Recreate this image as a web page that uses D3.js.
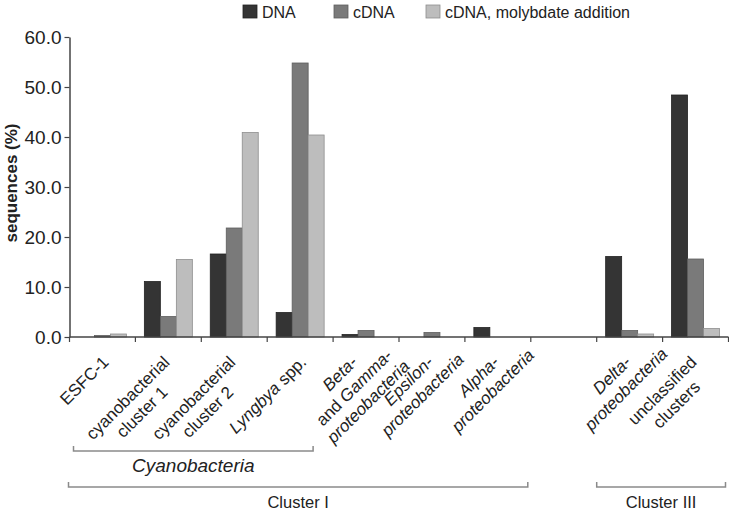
<!DOCTYPE html>
<html><head><meta charset="utf-8">
<script src="https://cdn.jsdelivr.net/npm/d3@7"></script>
<style>
body{margin:0;background:#fff}
text{font-family:"Liberation Sans",Arial,Helvetica,sans-serif;fill:#222}
</style>
</head><body>
<svg id="chart" width="729" height="512"></svg>
<script>
// ---- data ----
const categories = ["ESFC-1","cyanobacterial cluster 1","cyanobacterial cluster 2","Lyngbya spp.",
  "Beta- and Gamma-proteobacteria","Epsilon-proteobacteria","Alpha-proteobacteria","(gap)",
  "Delta-proteobacteria","unclassified clusters"];
const seriesNames = ["DNA","cDNA","cDNA, molybdate addition"];
const dnaValues       = [0,   11.1, 16.6, 4.9,  0.5, 0,   1.9, 0, 16.1, 48.4];
const cdnaValues      = [0.3, 4.1,  21.8, 54.8, 1.3, 0.9, 0,   0, 1.3,  15.6];
const molybdateValues = [0.6, 15.5, 40.9, 40.4, 0,   0,   0,   0, 0.6,  1.7];
const yTicks = [0,10,20,30,40,50,60];
const yTickLabels = ["0.0","10.0","20.0","30.0","40.0","50.0","60.0"];
// label lines per category: each line = list of [text, italic]
const categoryLabels = [
  [[["ESFC-1",0]]],
  [[["cyanobacterial",0]],[["cluster 1",0]]],
  [[["cyanobacterial",0]],[["cluster 2",0]]],
  [[["Lyngbya",1],[" spp.",0]]],
  [[["Beta-",1]],[["and ",0],["Gamma-",1]],[["proteobacteria",1]]],
  [[["Epsilon-",1]],[["proteobacteria",1]]],
  [[["Alpha-",1]],[["proteobacteria",1]]],
  [],
  [[["Delta-",1]],[["proteobacteria",1]]],
  [[["unclassified",0]],[["clusters",0]]]
];
const groupNames = ["Cyanobacteria","Cluster I","Cluster III"];
const groupFrom  = [0,0,8];
const groupTo    = [3,6,9];

// ---- layout ----
const svg = d3.select("#chart");
const colors = ["#343434","#7a7a7a","#bdbdbd"];
const strokes = ["#222","#5e5e5e","#8e8e8e"];
const x0 = 69.5, x1 = 728.5, yBase = 337, yTop = 37;

const x = d3.scaleBand().domain(categories).range([x0,x1]).paddingInner(0).paddingOuter(0);
const xs = d3.scaleBand().domain(seriesNames).range([0,x.bandwidth()]).paddingInner(0).paddingOuter(0.56);
const y = d3.scaleLinear().domain([0,60]).range([yBase,yTop]);

const table = categories.map((c,i)=>({cat:c, vals:[dnaValues[i],cdnaValues[i],molybdateValues[i]]}));

// bars
const g = svg.append("g");
table.forEach(d=>{
  d.vals.forEach((v,j)=>{
    if(v<=0) return;
    g.append("rect")
      .attr("x", x(d.cat)+xs(seriesNames[j]))
      .attr("y", y(v))
      .attr("width", xs.bandwidth())
      .attr("height", yBase - y(v))
      .attr("fill", colors[j])
      .attr("stroke", strokes[j])
      .attr("stroke-width", 0.8);
  });
});

// y axis
const yAxis = d3.axisLeft(y).tickValues(yTicks).tickFormat((d,i)=>yTickLabels[i]).tickSize(5).tickSizeOuter(0);
const ya = svg.append("g").attr("transform",`translate(${x0},0)`).call(yAxis);
ya.select(".domain").attr("stroke","#444").attr("stroke-width",1.5);
ya.selectAll(".tick line").attr("stroke","#444").attr("stroke-width",1.2);
ya.selectAll(".tick text").attr("font-size",19).attr("fill","#222").attr("x",-8)
  .style("font-family",'"Liberation Sans",Arial,sans-serif');

// x axis line with boundary ticks
const xa = svg.append("g");
xa.append("line").attr("x1",x0).attr("x2",x1).attr("y1",yBase).attr("y2",yBase)
  .attr("stroke","#444").attr("stroke-width",1.5);
const bounds = categories.map(c=>x(c)).concat([x1]);
bounds.forEach(b=>{
  xa.append("line").attr("x1",b).attr("x2",b).attr("y1",yBase).attr("y2",yBase+5)
    .attr("stroke","#444").attr("stroke-width",1.2);
});

// x labels, rotated -45, lines centered on each other
const lh = 20;
const labelShift = [0,3,-2,-12];
categoryLabels.forEach((lines,i)=>{
  if(!lines.length) return;
  const n = lines.length;
  const cx = x(categories[i]) + x.bandwidth()/2;
  const lg = svg.append("g").attr("transform",`translate(${cx+labelShift[n]},${yBase+22}) rotate(-45)`);
  const texts = lines.map((segs,k)=>{
    const t = lg.append("text").attr("font-size",17).attr("text-anchor","middle")
      .attr("y",k*lh).attr("dy","0.35em");
    segs.forEach(s=>t.append("tspan").text(s[0]).attr("font-style",s[1]?"italic":"normal"));
    return t;
  });
  const w1 = texts[0].node().getComputedTextLength();
  texts.forEach(t=>t.attr("x",-w1/2));
});

// group brackets
const bracketY = [451,487,487];
const bracketOffsets = [[4,-20],[-1,-3],[0,-3]];
groupNames.forEach((name,i)=>{
  const a = x(categories[groupFrom[i]]) + bracketOffsets[i][0];
  const b = x(categories[groupTo[i]]) + x.bandwidth() + bracketOffsets[i][1];
  const by = bracketY[i];
  svg.append("path").attr("d",`M${a},${by-5}V${by}H${b}V${by-5}`)
    .attr("fill","none").attr("stroke","#8a8a8a").attr("stroke-width",1.5);
  svg.append("text").attr("x",(a+b)/2).attr("y",by+21)
    .attr("text-anchor","middle")
    .attr("font-size",i===0?19:16.5)
    .attr("font-style",i===0?"italic":"normal")
    .text(name);
});

// y axis title
svg.append("text").attr("transform","translate(17,183) rotate(-90)")
  .attr("text-anchor","middle").attr("font-size",17).attr("font-weight","bold")
  .text("sequences (%)");

// legend
const legendX = [243,334,426];
seriesNames.forEach((s,i)=>{
  svg.append("rect").attr("x",legendX[i]).attr("y",5).attr("width",14).attr("height",13)
    .attr("fill",colors[i]).attr("stroke",strokes[i]).attr("stroke-width",0.8);
  svg.append("text").attr("x",legendX[i]+19).attr("y",17.5).attr("font-size",16).text(s);
});
</script>
</body></html>
